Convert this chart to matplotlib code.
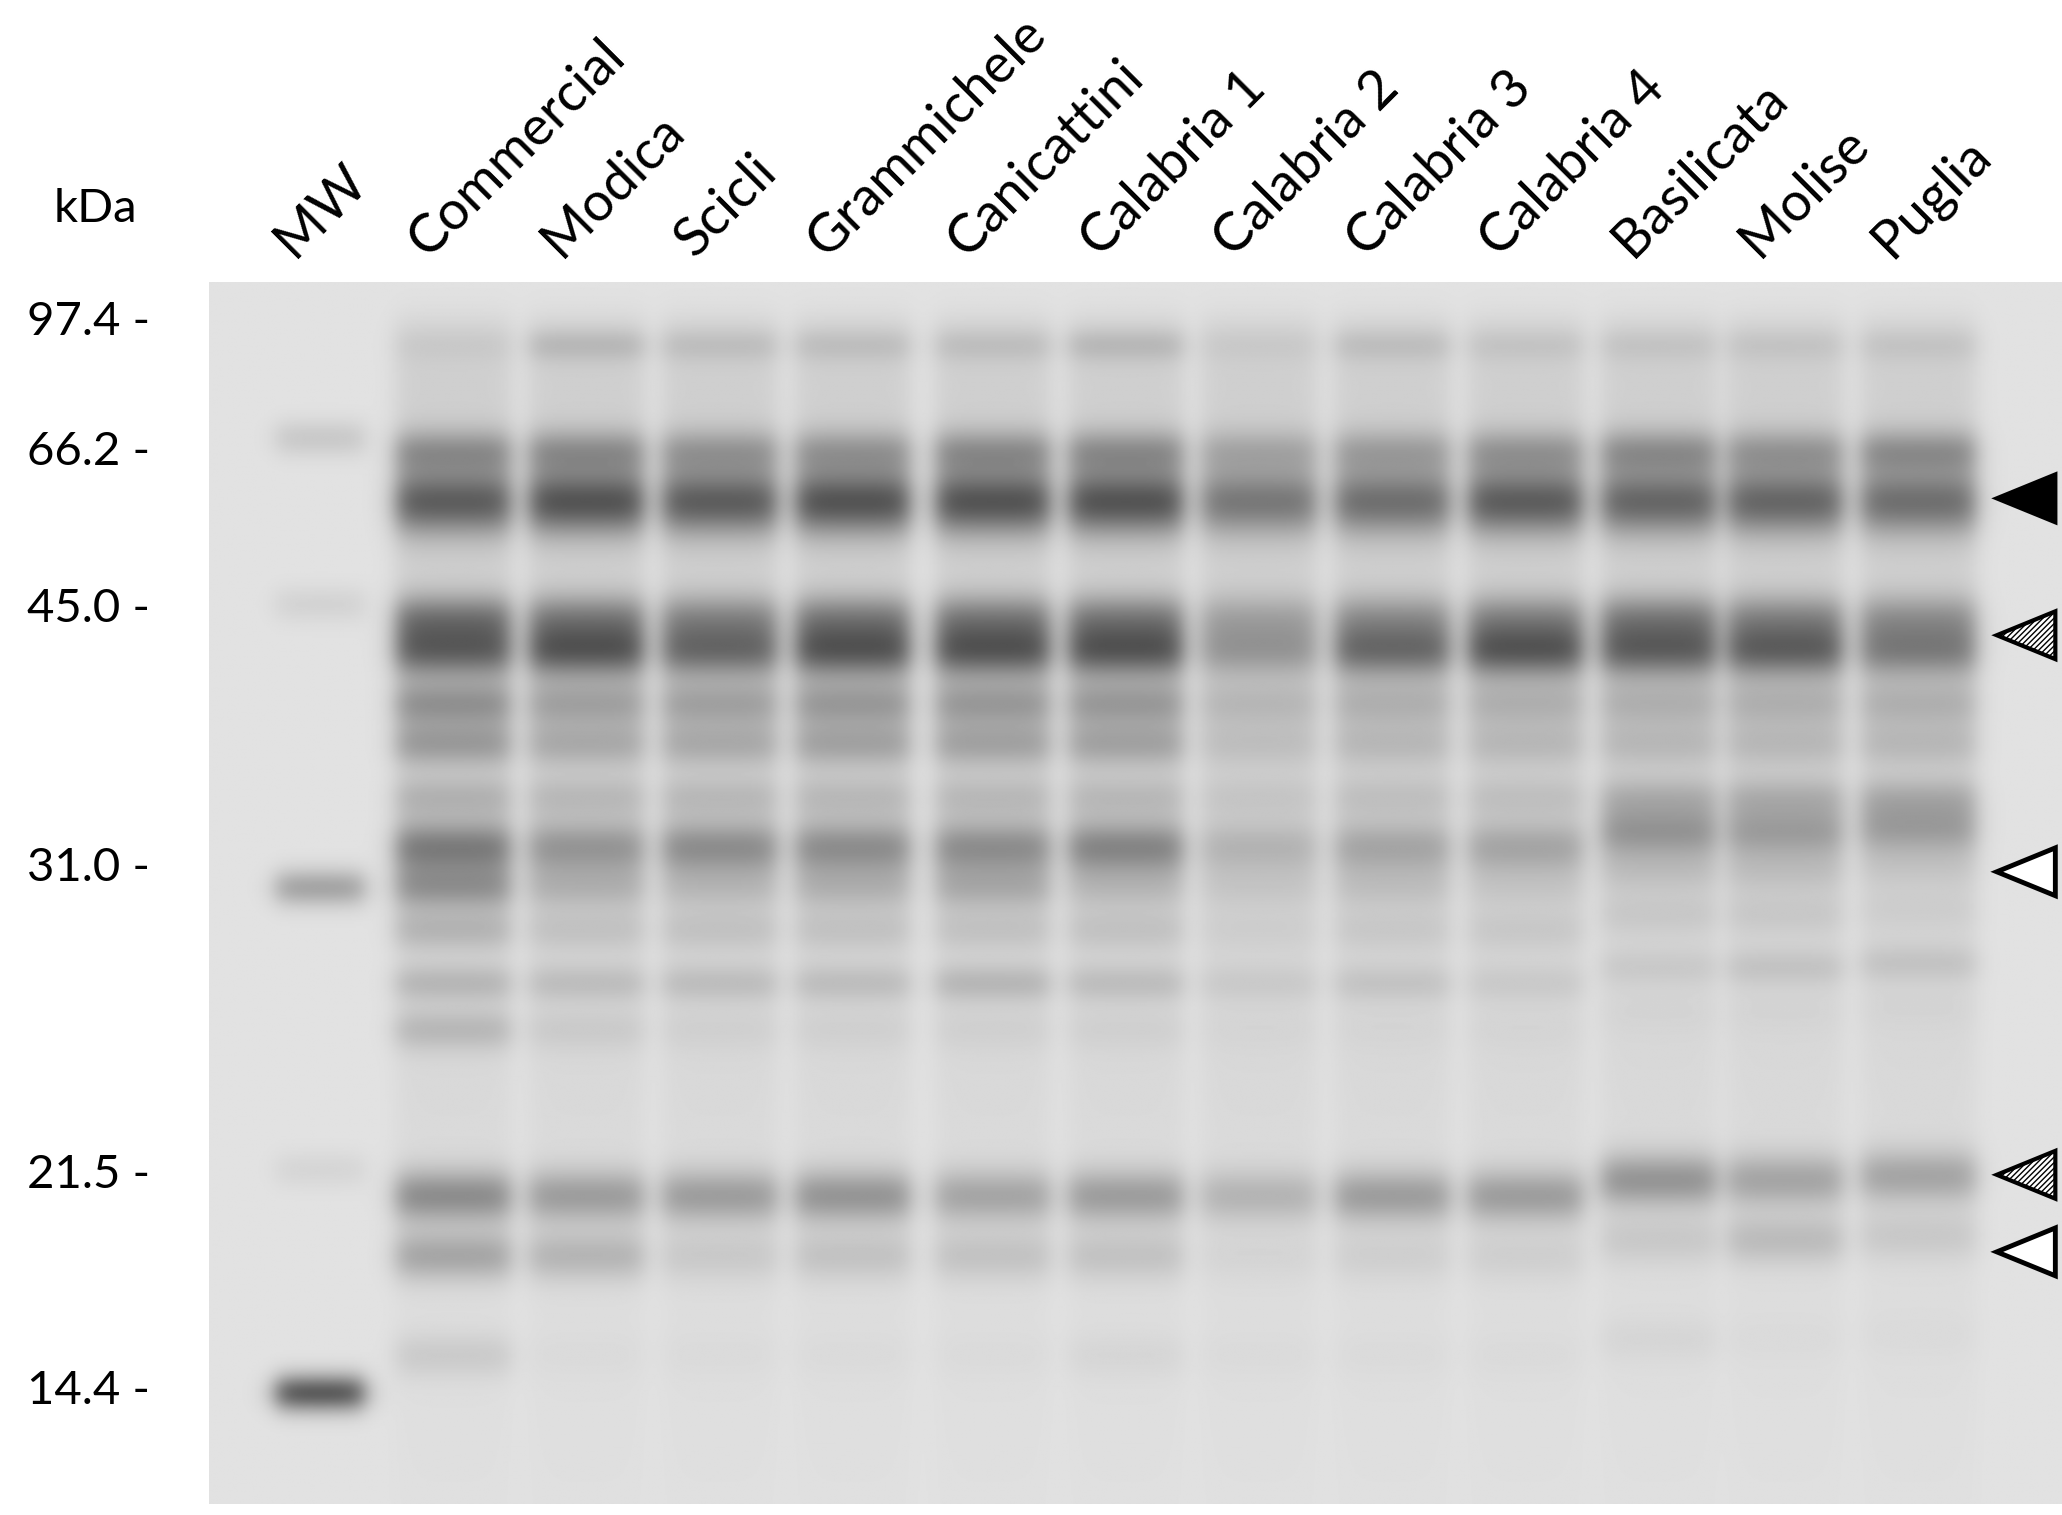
import numpy as np
import matplotlib
matplotlib.use('Agg')
import matplotlib.pyplot as plt
from matplotlib.patches import Polygon

# ─── data (positions in reference pixel units, y down) ───────────────────────
lanes = ['MW', 'Commercial', 'Modica', 'Scicli', 'Grammichele', 'Canicattini',
         'Calabria 1', 'Calabria 2', 'Calabria 3', 'Calabria 4', 'Basilicata',
         'Molise', 'Puglia']
lane_x = [240, 340, 440, 540, 640, 745, 845, 945, 1045, 1145, 1245, 1340, 1440]

mw_labels = ['97.4 -', '66.2 -', '45.0 -', '31.0 -', '21.5 -', '14.4 -']
mw_y = [242, 340, 458, 653, 884, 1047]

# MW lane marker bands: (y, intensity)
mw_bands_y = [330, 455, 668, 880, 1048]
mw_bands_i = [0.10, 0.06, 0.25, 0.05, 0.55]

band_y = [260, 340, 378, 465, 490, 530, 560, 600, 638, 668, 700, 740, 775, 900, 945, 1020]
band_s = [9, 12, 17, 13, 14, 12, 12, 11, 14, 12, 11, 10, 11, 14, 13, 12]
intens = [
    [0.10, 0.50, 0.80, 0.60, 0.75, 0.50, 0.45, 0.30, 0.65, 0.50, 0.30, 0.30, 0.30, 0.60, 0.45, 0.20],
    [0.25, 0.50, 0.85, 0.55, 0.80, 0.40, 0.35, 0.25, 0.50, 0.30, 0.20, 0.25, 0.15, 0.50, 0.35, 0.05],
    [0.20, 0.45, 0.80, 0.50, 0.70, 0.40, 0.35, 0.25, 0.55, 0.25, 0.20, 0.25, 0.10, 0.50, 0.20, 0.05],
    [0.20, 0.45, 0.85, 0.55, 0.80, 0.45, 0.40, 0.25, 0.55, 0.30, 0.20, 0.25, 0.10, 0.55, 0.25, 0.05],
    [0.20, 0.50, 0.85, 0.55, 0.80, 0.45, 0.40, 0.25, 0.55, 0.35, 0.20, 0.30, 0.10, 0.45, 0.25, 0.05],
    [0.25, 0.50, 0.85, 0.55, 0.80, 0.45, 0.40, 0.25, 0.60, 0.25, 0.20, 0.25, 0.10, 0.50, 0.25, 0.10],
    [0.10, 0.35, 0.65, 0.35, 0.45, 0.25, 0.20, 0.15, 0.30, 0.15, 0.10, 0.15, 0.05, 0.35, 0.10, 0.05],
    [0.20, 0.40, 0.70, 0.45, 0.70, 0.30, 0.25, 0.20, 0.40, 0.20, 0.15, 0.20, 0.05, 0.50, 0.15, 0.05],
    [0.15, 0.45, 0.80, 0.50, 0.80, 0.30, 0.25, 0.20, 0.40, 0.15, 0.15, 0.15, 0.05, 0.50, 0.15, 0.05],
    [0.15, 0.50, 0.75, 0.55, 0.75, 0.30, 0.25, 0.30, 0.50, 0.20, 0.15, 0.15, 0.05, 0.55, 0.20, 0.10],
    [0.15, 0.45, 0.75, 0.50, 0.75, 0.30, 0.25, 0.30, 0.45, 0.20, 0.15, 0.20, 0.05, 0.45, 0.30, 0.05],
    [0.15, 0.50, 0.70, 0.45, 0.60, 0.30, 0.25, 0.30, 0.45, 0.15, 0.10, 0.20, 0.05, 0.45, 0.20, 0.05],
]
# shift of lower bands for right-hand lanes (run slightly higher)
lane_shift = [0, 0, 0, 0, 0, 0, 0, 0, 0, 0, -12, -12, -15]

# arrowheads: (y, style)
arrow_y = [375, 478, 656, 884, 942]
arrow_style = ['filled', 'hatched', 'open', 'hatched', 'open']

# ─── gel image ───────────────────────────────────────────────────────────────
x0, x1, y0, y1 = 157, 1549, 213, 1132
xs = np.arange(x0, x1)
ys = np.arange(y0, y1)
X, Y = np.meshgrid(xs, ys)
dark = np.full(X.shape, 0.12)

def lane_profile(cx, half=43, soft=10):
    return 0.5 * (np.tanh((X - (cx - half)) / soft) - np.tanh((X - (cx + half)) / soft))

# MW lane
p = lane_profile(lane_x[0], 33)
for by, bi in zip(mw_bands_y, mw_bands_i):
    dark += bi * p * np.exp(-0.5 * ((Y - by) / 10) ** 2)

for k, cx in enumerate(lane_x[1:]):
    p = lane_profile(cx)
    # general smear in the lane
    smear = 0.08 * np.exp(-((Y - 350) / 550.0) ** 2) * (0.5 + 0.5 * np.tanh((Y - 240) / 15))
    dark += p * smear
    for j, (by, bs) in enumerate(zip(band_y, band_s)):
        sh = lane_shift[k + 1] if by > 600 else 0
        v = intens[k][j]
        dark += 0.62 * v ** 1.3 * p * np.exp(-0.5 * ((Y - by - sh) / bs) ** 2)

dark = np.clip(dark, 0, 1)
gray = 1 - dark * 0.95

fig = plt.figure(figsize=(20.62, 15.15), dpi=100, facecolor='white')
ax = fig.add_axes([0, 0, 1, 1])
ax.set_xlim(0, 1549)
ax.set_ylim(1140, 0)
ax.axis('off')
ax.imshow(gray, cmap='gray', vmin=0, vmax=1, extent=[x0, x1, y1, y0],
          aspect='auto', interpolation='bilinear')

font = 'Lato'
for name, cx in zip(lanes, lane_x):
    ax.text(cx - 14, 200, name, rotation=45, rotation_mode='anchor',
            ha='left', va='bottom', fontsize=39, family=font)

ax.text(72, 157, 'kDa', ha='center', va='center', fontsize=34, family=font)
for lab, y in zip(mw_labels, mw_y):
    ax.text(20, y, lab, ha='left', va='center', fontsize=34, family=font)

for y, st in zip(arrow_y, arrow_style):
    pts = [(1500, y), (1544, y - 18), (1544, y + 18)]
    if st == 'filled':
        ax.add_patch(Polygon(pts, closed=True, fc='black', ec='black', lw=3))
    elif st == 'hatched':
        ax.add_patch(Polygon(pts, closed=True, fc='white', ec='black', lw=3,
                             hatch='//////'))
    else:
        ax.add_patch(Polygon(pts, closed=True, fc='white', ec='black', lw=3.5))

fig.savefig('out.png', dpi=100, facecolor='white')
